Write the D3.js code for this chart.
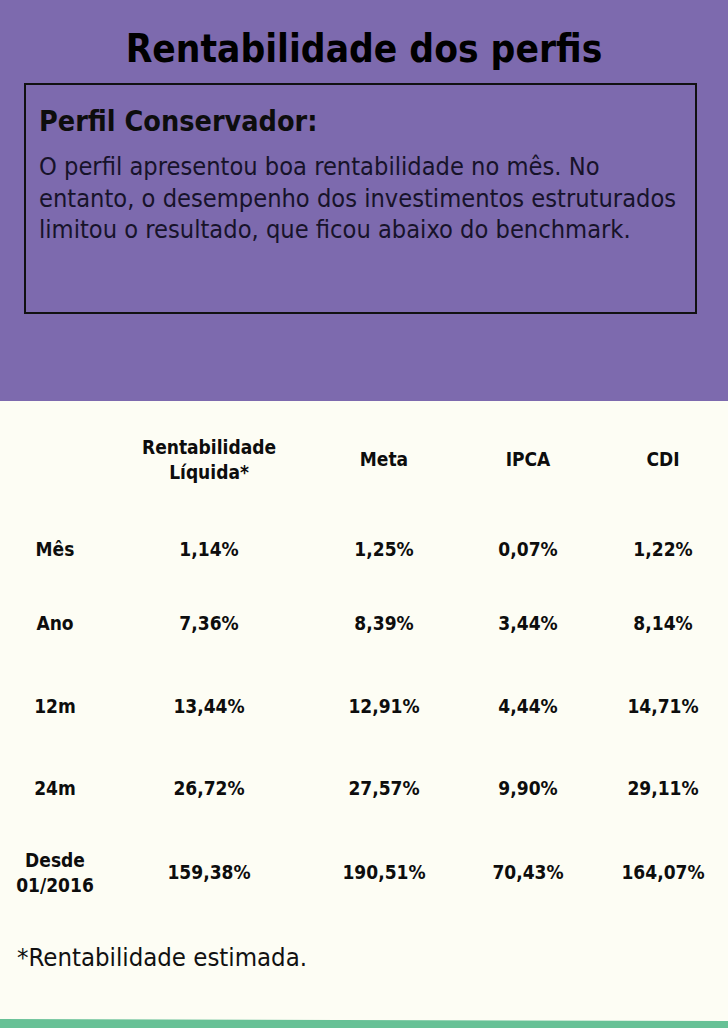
<!DOCTYPE html>
<html>
<head>
<meta charset="utf-8">
<script src="https://cdn.jsdelivr.net/npm/d3@7"></script>
<style>
  body { margin: 0; background: #fdfdf4; }
  svg text { font-family: "DejaVu Sans Condensed", "DejaVu Sans", sans-serif; }
</style>
</head>
<body>
<svg id="chart"></svg>
<script>
  // table data
  let columns = ['', 'Rentabilidade\nLíquida*', 'Meta', 'IPCA', 'CDI'];
  let periods = ['Mês', 'Ano', '12m', '24m', 'Desde\n01/2016'];
  let rentabilidade = ['1,14%', '7,36%', '13,44%', '26,72%', '159,38%'];
  let meta = ['1,25%', '8,39%', '12,91%', '27,57%', '190,51%'];
  let ipca = ['0,07%', '3,44%', '4,44%', '9,90%', '70,43%'];
  let cdi = ['1,22%', '8,14%', '14,71%', '29,11%', '164,07%'];

  let title = 'Rentabilidade dos perfis';
  let heading = 'Perfil Conservador:';
  let bodyLines = [
    'O perfil apresentou boa rentabilidade no mês. No',
    'entanto, o desempenho dos investimentos estruturados',
    'limitou o resultado, que ficou abaixo do benchmark.'
  ];
  let footnote = '*Rentabilidade estimada.';

  let width = 728;
  let height = 1028;

  let svg = d3.select('#chart').attr('width', width).attr('height', height);

  // background pieces
  svg.append('rect').attr('x', 0).attr('y', 0).attr('width', width).attr('height', height).attr('fill', '#fdfdf4');
  svg.append('rect').attr('x', 0).attr('y', 0).attr('width', width).attr('height', 401).attr('fill', '#7d6aae');
  svg.append('path')
    .attr('d', `M0,1019 L728,1021 L728,${height} L0,${height} Z`)
    .attr('fill', '#67c196');

  svg.append('text')
    .attr('x', width / 2).attr('y', 62)
    .attr('text-anchor', 'middle')
    .attr('font-size', 38.5).attr('font-weight', 'bold')
    .attr('fill', '#000')
    .text(title);

  svg.append('rect')
    .attr('x', 25).attr('y', 84).attr('width', 671).attr('height', 229)
    .attr('fill', 'none').attr('stroke', '#111').attr('stroke-width', 2);

  svg.append('text')
    .attr('x', 39).attr('y', 131)
    .attr('font-size', 28.5).attr('font-weight', 'bold')
    .attr('fill', '#0d0d0d')
    .text(heading);

  svg.selectAll('text.body')
    .data(bodyLines)
    .enter()
    .append('text')
    .attr('class', 'body')
    .attr('x', 39)
    .attr('y', (d, i) => 175 + i * 31.5)
    .attr('font-size', 25.2)
    .attr('fill', '#17132a')
    .text((d) => d);

  // table scales
  let colScale = d3.scaleOrdinal()
    .domain(columns)
    .range([55, 209, 384, 528, 663]);

  let rowScale = d3.scaleOrdinal()
    .domain(['header'].concat(periods))
    .range([459, 549, 623, 706, 788, 872]);

  let drawCell = (g, label, x, y) => {
    let lines = label.split('\n');
    let lh = 25;
    let t = g.append('text')
      .attr('x', x)
      .attr('text-anchor', 'middle')
      .attr('font-size', 19)
      .attr('font-weight', 'bold')
      .attr('fill', '#0d0d0d');
    lines.forEach((ln, i) => {
      t.append('tspan')
        .attr('x', x)
        .attr('y', y + 7 + (i - (lines.length - 1) / 2) * lh)
        .text(ln);
    });
  };

  let table = svg.append('g').attr('id', 'table');

  columns.forEach((c) => {
    if (c) drawCell(table, c, colScale(c), rowScale('header'));
  });

  let series = [rentabilidade, meta, ipca, cdi];
  periods.forEach((p, i) => {
    drawCell(table, p, colScale(columns[0]), rowScale(p));
    series.forEach((s, j) => {
      drawCell(table, s[i], colScale(columns[j + 1]), rowScale(p));
    });
  });

  svg.append('text')
    .attr('x', 17).attr('y', 966)
    .attr('font-size', 25.5)
    .attr('fill', '#111')
    .text(footnote);
</script>
</body>
</html>
